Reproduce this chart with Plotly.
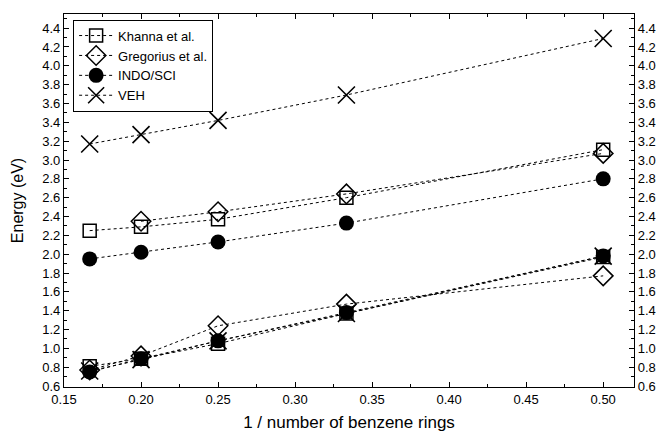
import plotly.graph_objects as go

x_vals = [1/6, 1/5, 1/4, 1/3, 1/2]
x_greg_upper = [1/5, 1/4, 1/3, 1/2]

khanna_upper = [2.25, 2.29, 2.37, 2.60, 3.11]
khanna_lower = [0.81, 0.89, 1.05, 1.37, 1.97]
gregorius_upper = [2.35, 2.45, 2.64, 3.07]
gregorius_lower = [0.77, 0.92, 1.24, 1.47, 1.77]
indo_upper = [1.95, 2.02, 2.13, 2.33, 2.80]
indo_lower = [0.75, 0.89, 1.08, 1.38, 1.98]
veh_upper = [3.17, 3.27, 3.42, 3.69, 4.29]
veh_lower = [0.76, 0.88, 1.08, 1.37, 1.98]

series = [
    ("Khanna et al.", dict(symbol="square-open", size=13, line=dict(width=1.5)), x_vals, khanna_upper, x_vals, khanna_lower),
    ("Gregorius et al.", dict(symbol="diamond-open", size=15, line=dict(width=1.5)), x_greg_upper, gregorius_upper, x_vals, gregorius_lower),
    ("INDO/SCI", dict(symbol="circle", size=15, line=dict(width=0)), x_vals, indo_upper, x_vals, indo_lower),
    ("VEH", dict(symbol="x-thin-open", size=17, line=dict(width=1.6)), x_vals, veh_upper, x_vals, veh_lower),
]

fig = go.Figure()
for name, mk, xu, yu, xl, yl in series:
    marker = dict(color="black", **mk)
    marker["line"] = dict(color="black", width=mk["line"]["width"])
    fig.add_trace(go.Scatter(x=xl, y=yl, mode="lines+markers", name=name, legendgroup=name,
                             showlegend=False, line=dict(color="black", width=1, dash="dot"), marker=marker))
    fig.add_trace(go.Scatter(x=xu, y=yu, mode="lines+markers", name=name, legendgroup=name,
                             showlegend=True, line=dict(color="black", width=1, dash="dot"), marker=marker))

# invisible trace on right axis
fig.add_trace(go.Scatter(x=[0.3], y=[2.0], yaxis="y2", mode="markers", marker=dict(opacity=0), showlegend=False, hoverinfo="skip"))

yr = [0.59, 4.55]
axis_common = dict(showline=True, linecolor="black", linewidth=1.2, ticks="inside", ticklen=5,
                   tickcolor="black", showgrid=False, zeroline=False, automargin=False,
                   tickfont=dict(family="Liberation Sans, Arial", size=13, color="black"))

fig.update_layout(
    width=665, height=436,
    margin=dict(l=64, r=31, t=14, b=49),
    plot_bgcolor="white", paper_bgcolor="white",
    font=dict(family="Liberation Sans, Arial", color="black"),
    xaxis=dict(range=[0.15, 0.52], tick0=0.15, dtick=0.05, tickformat=".2f", mirror="ticks",
               minor=dict(ticks="inside", ticklen=3, dtick=0.025, tick0=0.15, tickcolor="black"),
               title=dict(text="1 / number of benzene rings", font=dict(size=17), standoff=10),
               **axis_common),
    yaxis=dict(range=yr, tick0=0.6, dtick=0.2, tickformat=".1f", mirror="ticks",
               minor=dict(ticks="inside", ticklen=3, dtick=0.1, tick0=0.6, tickcolor="black"),
               title=dict(text="Energy (eV)", font=dict(size=16), standoff=14),
               **axis_common),
    yaxis2=dict(range=yr, tick0=0.6, dtick=0.2, tickformat=".1f", overlaying="y", side="right",
                minor=dict(ticks="inside", ticklen=3, dtick=0.1, tick0=0.6, tickcolor="black"),
                **axis_common),
    legend=dict(x=0.016, y=0.985, xanchor="left", yanchor="top", bgcolor="white",
                bordercolor="black", borderwidth=1, font=dict(size=13),
                tracegroupgap=0, itemwidth=34),
)

fig.write_html("out.html", config={"displayModeBar": False},
               post_script="document.body.style.margin='0';document.body.style.overflow='hidden';")
